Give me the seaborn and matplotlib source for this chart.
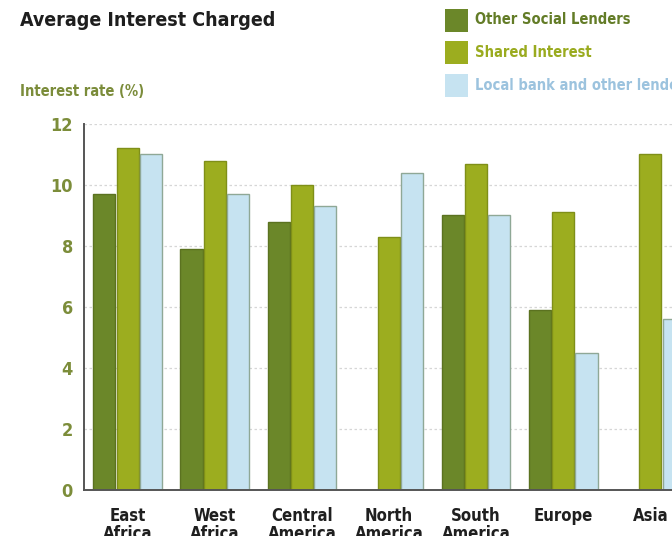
import numpy as np
import pandas as pd
import matplotlib
matplotlib.use("Agg")
import matplotlib.pyplot as plt
from matplotlib.patches import Rectangle
import seaborn as sns

# Data
regions = ["East\nAfrica", "West\nAfrica", "Central\nAmerica", "North\nAmerica",
           "South\nAmerica", "Europe", "Asia"]
other_social = [9.7, 7.9, 8.8, np.nan, 9.0, 5.9, np.nan]
shared_interest = [11.2, 10.8, 10.0, 8.3, 10.7, 9.1, 11.0]
local_bank = [11.0, 9.7, 9.3, 10.4, 9.0, 4.5, 5.6]
lenders = ["Other Social Lenders", "Shared Interest", "Local bank and other lenders"]
y_ticks = [0, 2, 4, 6, 8, 10, 12]

fill_colors = ["#6b8729", "#9cad1f", "#c6e3f1"]
edge_colors = ["#5b7220", "#7f8f18", "#8fa896"]
text_colors = ["#637c27", "#9aab1f", "#9cc3de"]

df = pd.DataFrame({
    "region": np.repeat(regions, 3),
    "lender": lenders * len(regions),
    "rate": np.column_stack([other_social, shared_interest, local_bank]).ravel(),
})

sns.set_theme(style="white")
plt.rcParams["font.family"] = ["Liberation Sans Narrow", "DejaVu Sans"]
plt.rcParams["font.stretch"] = "condensed"
plt.rcParams["font.weight"] = "bold"

fig = plt.figure(figsize=(6.72, 5.36), dpi=100)
ax = fig.add_axes([0.125, 0.0858, 0.9077, 0.683])

sns.barplot(data=df, x="region", y="rate", hue="lender", order=regions,
            hue_order=lenders, palette=fill_colors, saturation=1, width=0.8,
            gap=0.05, legend=False, ax=ax)

# Outline each bar in a slightly darker shade of its fill
for container, ec in zip(ax.containers, edge_colors):
    for bar in container:
        bar.set_edgecolor(ec)
        bar.set_linewidth(1.0)

ax.set_xlim(-0.5, 6.5)
ax.set_ylim(0, 12)
ax.set_xlabel("")
ax.set_ylabel("")

# Dotted horizontal guides
ax.set_yticks(y_ticks)
for yv in y_ticks[1:]:
    ax.axhline(yv, color="#d6d6d6", lw=0.9, ls=(0, (2, 2)), zorder=0)

for side in ["top", "right"]:
    ax.spines[side].set_visible(False)
for side in ["left", "bottom"]:
    ax.spines[side].set_color("#555555")
    ax.spines[side].set_linewidth(1.4)

ax.tick_params(axis="y", direction="in", length=7, width=1.2, color="#444444",
               pad=8, labelsize=13, labelcolor="#7c8d3a")
for lbl in ax.get_yticklabels():
    lbl.set_fontweight("bold")

ax.set_xticks(range(len(regions)))
ax.set_xticklabels(regions, fontsize=12, fontweight="bold", color="#1f1f1f",
                   linespacing=1.05, va="top")
ax.tick_params(axis="x", which="major", length=0, pad=12)
ax.set_xticks(np.arange(0.5, len(regions) - 1, 1.0), minor=True)
ax.tick_params(axis="x", which="minor", direction="in", length=6, width=1.2,
               color="#444444")

# Titles
fig.text(20 / 672, 1 - 20 / 536, "Average Interest Charged", fontsize=14,
         fontweight="bold", color="#1e1e1e", va="center", ha="left")
fig.text(20 / 672, 1 - 92 / 536, "Interest rate (%)", fontsize=10.5,
         fontweight="bold", color="#7b8c3a", va="center", ha="left")

# Legend drawn as swatches with coloured labels
sw_x, sw_w, sw_h = 445, 23, 23
for i, (name, fc, tc) in enumerate(zip(lenders, fill_colors, text_colors)):
    cy = 20 + i * 32.5
    fig.patches.append(Rectangle((sw_x / 672, 1 - (cy + sw_h / 2) / 536),
                                 sw_w / 672, sw_h / 536, facecolor=fc,
                                 edgecolor="none", transform=fig.transFigure,
                                 figure=fig))
    fig.text(475 / 672, 1 - cy / 536, name, fontsize=10.5, fontweight="bold",
             color=tc, va="center", ha="left")

fig.savefig("out.png", dpi=100, facecolor="white")
